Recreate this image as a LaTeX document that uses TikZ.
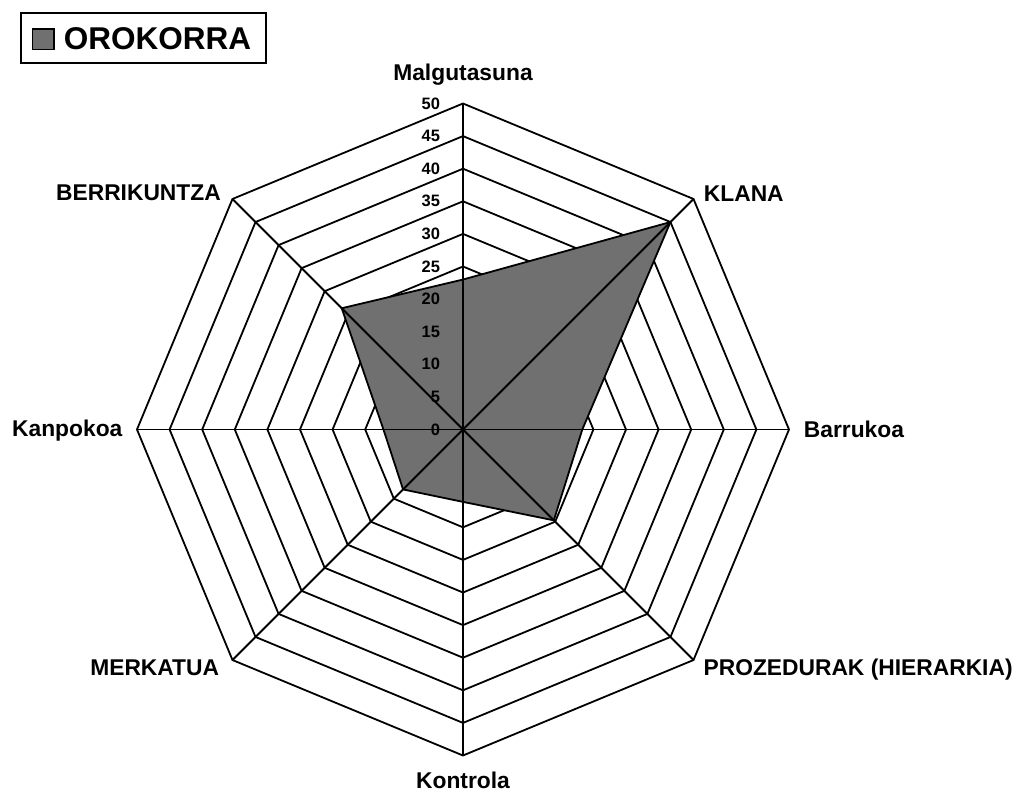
\documentclass[tikz,border=0pt]{standalone}
\usepackage{fontspec}
\setmainfont{Liberation Sans}
\definecolor{areagray}{HTML}{707070}

\begin{document}
\begin{tikzpicture}[x=1pt,y=1pt,line width=1.8pt,line join=miter,
    axislabel/.style={font=\fontsize{22.8}{26}\selectfont\bfseries,inner sep=0pt},
    ticklabel/.style={font=\fontsize{16.5}{19}\selectfont\bfseries,inner sep=0pt,anchor=east}]
    \useasboundingbox (-463,-366.5) rectangle (557,429.5);

    % rings, 5 by 5
    \foreach \r [evaluate=\r as \rad using \r*32.6] in {1,...,10}
        \draw (0:\rad) \foreach \a in {45,90,...,315}{ -- (\a:\rad)} -- cycle;

    % data
    \fill[areagray,draw=black]
        (90:{23*6.52}) -- (45:{45*6.52}) -- (0:{18.3*6.52}) -- (-45:{19.7*6.52})
        -- (-90:{11.1*6.52}) -- (-135:{13*6.52}) -- (180:{12.2*6.52}) -- (135:{26.3*6.52})
        -- cycle;

    % spokes
    \coordinate (centre) at (0,0);
    \foreach \a in {0,45,...,315}
        \draw (centre) -- (\a:326);

    % scale
    \foreach \v in {0,5,...,50}
        \node[ticklabel] (tick\v) at (-22,{\v*6.52}) {\v};

    % axis names
    \node[axislabel,anchor=base] (malg) at (0,348.8) {Malgutasuna};
    \node[axislabel,anchor=base west] (klana) at (240,227.8) {KLANA};
    \node[axislabel,anchor=base west] (barru) at (340,-7.8) {Barrukoa};
    \node[axislabel,anchor=base west] (proz) at (239.7,-245.5) {PROZEDURAK (HIERARKIA)};
    \node[axislabel,anchor=base] (kontr) at (0,-358.5) {Kontrola};
    \node[axislabel,anchor=base east] (merk) at (-243,-245.5) {MERKATUA};
    \node[axislabel,anchor=base east] (kanpo) at (-339.7,-7.2) {Kanpokoa};
    \node[axislabel,anchor=base east] (berri) at (-241.3,228.8) {BERRIKUNTZA};

    % legend
    \draw (-441.7,366.2) rectangle (-197.3,416.8);
    \draw[fill=areagray,line width=1.4pt] (-430.3,380.2) rectangle (-409,400.5);
    \node[font=\fontsize{31.5}{36}\selectfont\bfseries,inner sep=0pt,anchor=base west]
        (oro) at (-400,380.2) {OROKORRA};
\end{tikzpicture}
\end{document}
